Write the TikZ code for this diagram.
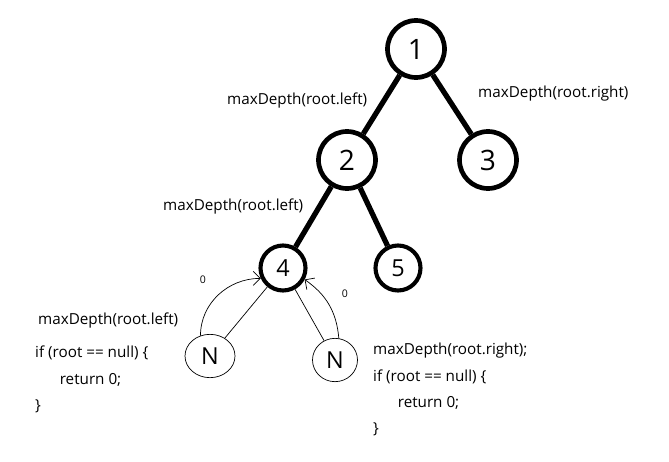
\documentclass[tikz,border=0pt]{standalone}
\usepackage{fontspec}
\setmainfont{Open Sans}
\usetikzlibrary{shapes.geometric,arrows.meta,positioning}
\tikzset{
  tn/.style = {draw, circle, line width=4pt, minimum size=1.71cm, inner sep=0pt, font=\fontsize{24}{24}\selectfont},
  sn/.style = {draw, circle, line width=3.5pt, minimum size=1.35cm, inner sep=0pt, font=\fontsize{20}{20}\selectfont},
  nn/.style = {draw, ellipse, semithick, minimum width=1.5cm, minimum height=1.3cm, inner sep=0pt, font=\fontsize{20}{20}\selectfont},
  edge/.style = {line width=4.5pt},
  link/.style = {semithick},
  back/.style = {semithick, -{Straight Barb[length=6pt,width=12pt]}},
  zero/.style = {inner sep=0pt, font=\fontsize{9}{9}\selectfont},
  lbl/.style = {font=\fontsize{13}{16}\selectfont, anchor=west, inner sep=0pt},
  code/.style = {inner sep=0pt, align=left, anchor=north west, font=\fontsize{13}{22.5}\selectfont}
}

\begin{document}
\begin{tikzpicture}[on grid]
            \useasboundingbox (0,0) rectangle (20.07,-13.83);
            % tree
            \node[tn] (n1) at (12.48,-1.47) {1};
            \node[tn, below left=3.33cm and 2.07cm of n1] (n2) {2};
            \node[tn, below right=3.33cm and 2.16cm of n1] (n3) {3};
            \node[sn, below left=3.24cm and 1.92cm of n2] (n4) {4};
            \node[sn, below right=3.24cm and 1.53cm of n2] (n5) {5};
            \node[nn, below left=2.64cm and 2.19cm of n4] (nl) {N};
            \node[nn, below right=2.76cm and 1.56cm of n4, minimum width=1.35cm] (nr) {N};
            \draw[edge] (n1) -- (n2);
            \draw[edge] (n1) -- (n3);
            \draw[edge] (n2) -- (n4);
            \draw[edge] (n2) -- (n5);
            \draw[link] (n4) -- (nl);
            \draw[link] (n4) -- (nr);
            % returned values
            \draw[back] (nl.115) to[out=90, in=180] (n4.205);
            \draw[back] (nr.80) to[out=95, in=-35] (n4.-28);
            \node[zero] (z1) at (6.09,-8.4) {0};
            \node[zero] (z2) at (10.35,-8.82) {0};
            % calls
            \node[lbl] (l1) at (6.81,-3.03) {maxDepth(root.left)};
            \node[lbl] (l2) at (14.34,-2.82) {maxDepth(root.right)};
            \node[lbl] (l3) at (4.89,-6.21) {maxDepth(root.left)};
            \node[lbl] (l4) at (1.14,-9.6) {maxDepth(root.left)};
            \node[code] (c1) at (1.05,-10.38) {if (root == null) \{\\\hspace*{21pt}return 0;\\\}};
            \node[code] (c2) at (11.19,-10.29) {maxDepth(root.right);\\if (root == null) \{\\\hspace*{21pt}return 0;\\\}};
\end{tikzpicture}
\end{document}
